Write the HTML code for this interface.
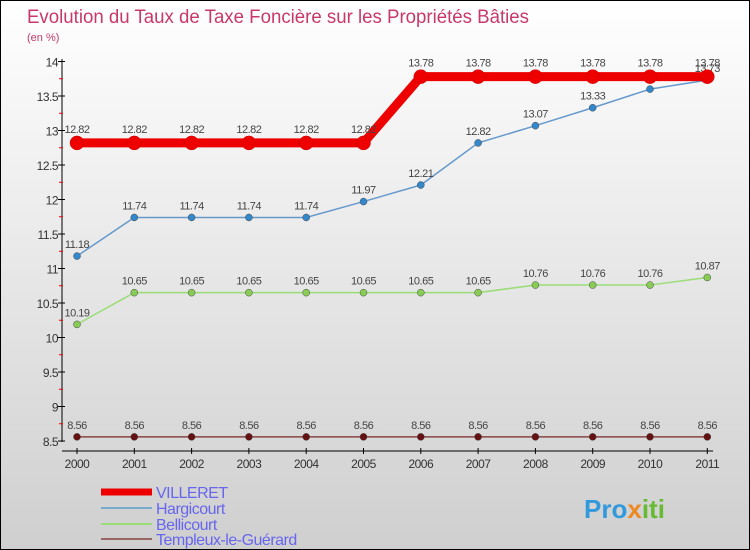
<!DOCTYPE html>
<html><head><meta charset="utf-8"><style>
body{margin:0}
#c{width:750px;height:550px;position:relative;overflow:hidden;box-sizing:border-box;border:1px solid #000;background:linear-gradient(#ffffff,#cfcfcf);font-family:"Liberation Sans",sans-serif}
</style></head><body>
<div id="c">
<svg id="s" width="750" height="550" style="position:absolute;left:0;top:0">
<text x="26" y="22" font-size="19" fill="#c8386a" textLength="502" lengthAdjust="spacingAndGlyphs">Evolution du Taux de Taxe Foncière sur les Propriétés Bâties</text>
<text x="26" y="40" font-size="11" fill="#c8386a">(en %)</text>
<text x="583" y="517" font-size="26" font-weight="bold" fill="#3399dd">Pro<tspan fill="#ee8822">x</tspan><tspan fill="#66bb33">iti</tspan></text>
</svg>
</div>
<script>
const years=["2000","2001","2002","2003","2004","2005","2006","2007","2008","2009","2010","2011"];
const villeret=[12.82,12.82,12.82,12.82,12.82,12.82,13.78,13.78,13.78,13.78,13.78,13.78];
const hargicourt=[11.18,11.74,11.74,11.74,11.74,11.97,12.21,12.82,13.07,13.33,13.6,13.73];
const bellicourt=[10.19,10.65,10.65,10.65,10.65,10.65,10.65,10.65,10.76,10.76,10.76,10.87];
const templeux=[8.56,8.56,8.56,8.56,8.56,8.56,8.56,8.56,8.56,8.56,8.56,8.56];
const yTicks=["8.5","9","9.5","10","10.5","11","11.5","12","12.5","13","13.5","14"];
const names=["VILLERET","Hargicourt","Bellicourt","Templeux-le-Guérard"];
const NS="http://www.w3.org/2000/svg",s=document.getElementById('s');
const X=i=>76+i*57.3, Y=v=>440-(v-8.5)*69;
function el(t,a,p){const e=document.createElementNS(NS,t);for(const k in a)e.setAttribute(k,a[k]);(p||s).appendChild(e);return e;}
let e=el('line',{x1:61,y1:58,x2:61,y2:441,stroke:'#000'});

e=el('line',{x1:61,y1:450,x2:712,y2:450,stroke:'#000'});

yTicks.forEach(t=>{const y=Y(+t);
 el('line',{x1:57,y1:y,x2:64,y2:y,stroke:'#000'});
 if(+t<14)el('line',{x1:58,y1:y-17.25,x2:62,y2:y-17.25,stroke:'#e00'});
 e=el('text',{x:57,y:y+5,'font-size':12,fill:'#333','text-anchor':'end','letter-spacing':'-0.5'});e.textContent=t;
 
});
years.forEach((t,i)=>{const x=X(i);
 el('line',{x1:x,y1:447,x2:x,y2:453,stroke:'#000'});
 e=el('text',{x:x,y:467,'font-size':12,fill:'#333','text-anchor':'middle','letter-spacing':'-0.5'});e.textContent=t;
 
});
const series=[[villeret,'#ee0000',9,7,'#ee0000'],[hargicourt,'#6699cc',1.5,3.5,'#3388cc'],[bellicourt,'#99dd77',1.5,3.5,'#88cc55'],[templeux,'#884444',1.5,3.5,'#661111']];
series.slice().reverse().forEach((sr,k)=>{const [d,c,w,r,mc]=sr;const idx=3-k;
 const g=el('g',{});
 el('polyline',{points:d.map((v,i)=>X(i)+','+Y(v)).join(' '),fill:'none',stroke:c,'stroke-width':w},g);
 d.forEach((v,i)=>{const p=el('circle',{cx:X(i),cy:Y(v),r:r,fill:mc,stroke:idx==0?'#c00':'#444','stroke-width':0.5},g);
  
  const t=el('text',{x:X(i),y:Y(v)-(idx==0?10:8),'font-size':11,fill:'#444','text-anchor':'middle','letter-spacing':'-0.5'},g);t.textContent=String(v);
  
 });
});
const ly=[491,507,523,538],lw=[7,2,2,2],lc=['#ee0000','#77aacc','#99dd77','#996666'];
names.forEach((n,i)=>{
 const g=el('g',{});
 el('line',{x1:100,y1:ly[i],x2:151,y2:ly[i],stroke:lc[i],'stroke-width':lw[i]},g);
 const t=el('text',{x:155,y:ly[i]+6,'font-size':16,fill:'#6666ee','letter-spacing':'-0.5'},g);t.textContent=n;
});
</script>
</body></html>
